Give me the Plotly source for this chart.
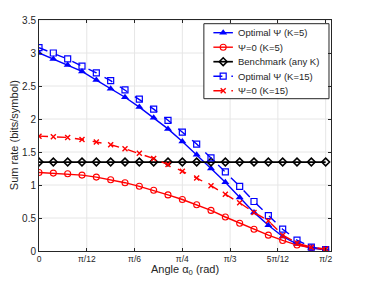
import numpy as np
import plotly.graph_objects as go

n_points = 21
angles = [i * np.pi / 40 for i in range(n_points)]

opt_k5 = [3.00, 2.91, 2.82, 2.72, 2.59, 2.46, 2.33, 2.18, 2.02, 1.85, 1.66,
          1.46, 1.25, 1.04, 0.81, 0.585, 0.39, 0.22, 0.105, 0.045, 0.02]
zero_k5 = [1.19, 1.18, 1.17, 1.15, 1.12, 1.08, 1.035, 0.98, 0.92, 0.85, 0.78,
           0.70, 0.615, 0.515, 0.42, 0.33, 0.24, 0.16, 0.09, 0.05, 0.02]
bench = [1.348] * n_points
opt_k15 = [3.08, 3.00, 2.91, 2.80, 2.70, 2.58, 2.44, 2.30, 2.15, 1.98, 1.80,
           1.62, 1.41, 1.20, 0.98, 0.75, 0.535, 0.33, 0.165, 0.06, 0.02]
zero_k15 = [1.74, 1.73, 1.72, 1.69, 1.65, 1.61, 1.55, 1.48, 1.40, 1.31, 1.21,
            1.105, 0.99, 0.86, 0.73, 0.585, 0.46, 0.24, 0.12, 0.055, 0.03]

x_tick_vals = [0, np.pi / 12, np.pi / 6, np.pi / 4, np.pi / 3, 5 * np.pi / 12, np.pi / 2]
x_tick_text = ["0", "π/12", "π/6", "π/4", "π/3", "5π/12", "π/2"]
y_tick_vals = [0, 0.5, 1, 1.5, 2, 2.5, 3, 3.5]
y_tick_text = ["0", "0.5", "1", "1.5", "2", "2.5", "3", "3.5"]

names = ["Optimal Ψ (K=5)", "Ψ=0 (K=5)", "Benchmark (any K)", "Optimal Ψ (K=15)", "Ψ=0 (K=15)"]
series = [opt_k5, zero_k5, bench, opt_k15, zero_k15]

FONT = "Liberation Sans, Arial, sans-serif"
TXT = "#262626"
GRID = "#e6e6e6"
X_MAX = 1.6
Y_MAX = 3.5

styles = [
    dict(line=dict(color="#0000ff", width=1.4),
         marker=dict(symbol="triangle-up", size=7, color="#0000ff")),
    dict(line=dict(color="#ff0000", width=1.4),
         marker=dict(symbol="circle-open", size=6, color="#ff0000", line=dict(width=1.1))),
    dict(line=dict(color="#000000", width=1.7),
         marker=dict(symbol="diamond-open", size=6, color="#000000", line=dict(width=1.6))),
    dict(line=dict(color="#0000ff", width=1.4, dash="dash"),
         marker=dict(symbol="square-open", size=6, color="#0000ff", line=dict(width=1.2))),
    dict(line=dict(color="#ff0000", width=1.4, dash="dash"),
         marker=dict(symbol="x-thin-open", size=5, color="#ff0000", line=dict(width=1.4, color="#ff0000"))),
]

fig = go.Figure()
for nm, ys, st in zip(names, series, styles):
    fig.add_trace(go.Scatter(x=angles, y=ys, name=nm, mode="lines+markers",
                             showlegend=False, **st))

# plot area in pixels: left 39.3, right 331, top 20.3, bottom 251.3
PL, PR, PT, PB = 39.3, 331.0, 20.3, 251.3


def fx(px):
    return (px - PL) / (PR - PL)


def fy(py):
    return (PB - py) / (PB - PT)


shapes = []
# grid lines (drawn as shapes so the legend box can hide them)
for xv in x_tick_vals[1:]:
    shapes.append(dict(type="line", xref="x", yref="y domain", x0=xv, x1=xv, y0=0, y1=1,
                       line=dict(color=GRID, width=1), layer="below"))
for yv in y_tick_vals[1:]:
    shapes.append(dict(type="line", xref="x domain", yref="y", x0=0, x1=1, y0=yv, y1=yv,
                       line=dict(color=GRID, width=1), layer="below"))

# ---- manual legend (MATLAB-like compact box) ----
shapes.append(dict(type="rect", xref="x domain", yref="y domain",
                   x0=fx(204), x1=fx(329), y0=fy(99), y1=fy(24),
                   fillcolor="white", line=dict(color="#262626", width=1), layer="below"))
annotations = []
entry_y = [33, 47.5, 62, 76.5, 91]
for nm, st, py in zip(names, styles, entry_y):
    shapes.append(dict(type="line", xref="x domain", yref="y domain",
                       x0=fx(213.5), x1=fx(233), y0=fy(py), y1=fy(py),
                       line=dict(color=st["line"]["color"], width=st["line"]["width"],
                                 dash=st["line"].get("dash", "solid")),
                       layer="below"))
    fig.add_trace(go.Scatter(x=[fx(223.3) * X_MAX], y=[fy(py) * Y_MAX], mode="markers",
                             marker=st["marker"], showlegend=False, cliponaxis=False,
                             hoverinfo="skip"))
    annotations.append(dict(xref="x domain", yref="y domain", x=fx(236), y=fy(py),
                            text=nm, showarrow=False, xanchor="left", yanchor="middle",
                            font=dict(family=FONT, size=9.5, color=TXT)))

# axis titles
annotations.append(dict(xref="x domain", yref="paper", x=0.5, y=-(270 - PB) / (PB - PT),
                        text="Angle α<sub>0</sub> (rad)", showarrow=False,
                        xanchor="center", yanchor="middle",
                        font=dict(family=FONT, size=11, color=TXT)))
annotations.append(dict(xref="paper", yref="y domain", x=-(PL - 14) / (PR - PL), y=0.5,
                        text="Sum rate (bits/symbol)", showarrow=False, textangle=-90,
                        xanchor="center", yanchor="middle",
                        font=dict(family=FONT, size=11, color=TXT)))

axis_common = dict(showline=True, mirror="ticks", linecolor=TXT, linewidth=1,
                   ticks="inside", ticklen=3, tickcolor=TXT, automargin=False,
                   showgrid=False, zeroline=False)

fig.update_xaxes(range=[0, X_MAX], tickvals=x_tick_vals, ticktext=x_tick_text,
                 tickfont=dict(family=FONT, size=8.5, color=TXT), **axis_common)
fig.update_yaxes(range=[0, Y_MAX], tickvals=y_tick_vals, ticktext=y_tick_text,
                 tickfont=dict(family=FONT, size=10, color=TXT), **axis_common)

fig.update_layout(
    width=367, height=282,
    margin=dict(l=39.3, r=36, t=20.3, b=30.7, autoexpand=False),
    paper_bgcolor="white", plot_bgcolor="white",
    font=dict(family=FONT, size=9, color=TXT),
    shapes=shapes, annotations=annotations,
    showlegend=False,
)

fig.write_html("out.html", config={"displayModeBar": False, "staticPlot": True},
               post_script="document.body.style.margin='0px';")
